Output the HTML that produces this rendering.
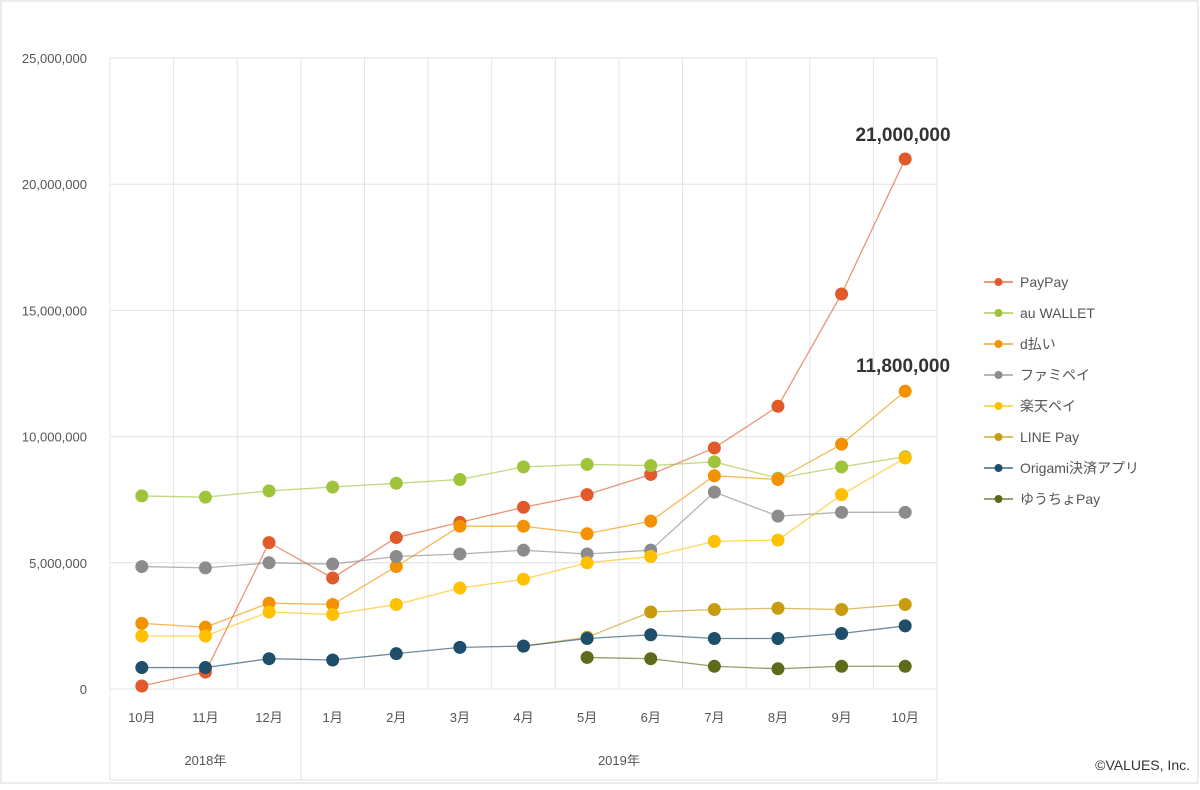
<!DOCTYPE html>
<html><head><meta charset="utf-8"><style>
body{margin:0;background:#fff;}
svg text{font-family:"Liberation Sans","Noto Sans CJK JP",sans-serif;}
</style></head><body>
<svg width="1200" height="785" viewBox="0 0 1200 785">
<rect x="1" y="1" width="1197" height="782" fill="#fff" stroke="#d9d9d9"/>
<g id="grid"></g><g id="axes"></g><g id="series"></g><g id="legend"></g>
<text x="903" y="141" text-anchor="middle" font-size="19" font-weight="bold" fill="#333">21,000,000</text>
<text x="903" y="372" text-anchor="middle" font-size="19" font-weight="bold" fill="#333">11,800,000</text>
<text x="1190" y="770" text-anchor="end" font-size="14" fill="#333">©VALUES, Inc.</text>
</svg>
<script>
const categories=["10月","11月","12月","1月","2月","3月","4月","5月","6月","7月","8月","9月","10月"];
const yTicks=[0,5000000,10000000,15000000,20000000,25000000];
const yTickLabels=["0","5,000,000","10,000,000","15,000,000","20,000,000","25,000,000"];
const seriesNames=["PayPay","au WALLET","d払い","ファミペイ","楽天ペイ","LINE Pay","Origami決済アプリ","ゆうちょPay"];
const seriesColors=["#e05a2b","#9fc43a","#f39200","#8c8c8c","#ffc000","#c89b10","#1f4e6b","#5e6b1a"];
const paypay=[0.12,0.67,5.8,4.4,6.0,6.6,7.2,7.7,8.5,9.55,11.2,15.65,21.0];
const auWallet=[7.65,7.6,7.85,8.0,8.15,8.3,8.8,8.9,8.85,9.0,8.35,8.8,9.2];
const dBarai=[2.6,2.45,3.4,3.35,4.85,6.45,6.45,6.15,6.65,8.45,8.3,9.7,11.8];
const famipay=[4.85,4.8,5.0,4.95,5.25,5.35,5.5,5.35,5.5,7.8,6.85,7.0,7.0];
const rakuten=[2.1,2.1,3.05,2.95,3.35,4.0,4.35,5.0,5.25,5.85,5.9,7.7,9.15];
const linePay=[null,null,null,null,null,null,1.7,2.05,3.05,3.15,3.2,3.15,3.35];
const origami=[0.85,0.85,1.2,1.15,1.4,1.65,1.7,2.0,2.15,2.0,2.0,2.2,2.5];
const yucho=[null,null,null,null,null,null,null,1.25,1.2,0.9,0.8,0.9,0.9];
const allSeries=[paypay,auWallet,dBarai,famipay,rakuten,linePay,origami,yucho];
const NS="http://www.w3.org/2000/svg";
const X0=110,X1=937,Y0=689,Y1=58,YMAX=25000000;
const cw=(X1-X0)/categories.length;
const xs=i=>X0+cw*(i+0.5);
const ys=v=>Y0-(v/YMAX)*(Y0-Y1);
function mk(p,tag,at){const e=document.createElementNS(NS,tag);for(const k in at)e.setAttribute(k,at[k]);p.appendChild(e);return e;}
const grid=document.getElementById('grid'),axes=document.getElementById('axes'),ser=document.getElementById('series'),leg=document.getElementById('legend');
yTicks.forEach((t,i)=>{
 const l=mk(grid,'line',{x1:X0,x2:X1,y1:ys(t),y2:ys(t),stroke:'#e3e3e3'});
 
 
 const tx=mk(axes,'text',{x:87,y:ys(t)+5,'text-anchor':'end','font-size':13,fill:'#555'});
 tx.textContent=yTickLabels[i];
 
 
});
for(let i=0;i<=categories.length;i++){
 const x=X0+cw*i;
 const full=(i===0||i===3||i===categories.length);
 const l=mk(grid,'line',{x1:x,x2:x,y1:Y1,y2:full?780:Y0,stroke:'#e3e3e3'});
 
 
}
mk(grid,'line',{x1:X0,x2:X1,y1:780,y2:780,stroke:'#e3e3e3'});
categories.forEach((c,i)=>{
 const t=mk(axes,'text',{x:xs(i),y:722,'text-anchor':'middle','font-size':13,fill:'#555'});
 t.textContent=c;
 
 
});
[["2018年",X0+cw*1.5],["2019年",X0+cw*8]].forEach(a=>{
 const t=mk(axes,'text',{x:a[1],y:765,'text-anchor':'middle','font-size':13,fill:'#555'});
 t.textContent=a[0];
 
 
});
allSeries.forEach((s,k)=>{
 const g=mk(ser,'g',{});
 
 
 let d='';let pen=false;
 s.forEach((v,i)=>{if(v==null){pen=false;return;}d+=(pen?'L':'M')+xs(i)+' '+ys(v*1e6)+' ';pen=true;});
 mk(g,'path',{d:d,fill:'none',stroke:seriesColors[k],'stroke-width':1.3,'stroke-opacity':0.65});
 s.forEach((v,i)=>{if(v==null)return;
  const c=mk(g,'circle',{cx:xs(i),cy:ys(v*1e6),r:6.5,fill:seriesColors[k]});
  
  
 });
});
seriesNames.forEach((n,k)=>{
 const y=282+k*31;
 const g=mk(leg,'g',{});
 
 
 mk(g,'line',{x1:984,x2:1013,y1:y,y2:y,stroke:seriesColors[k],'stroke-width':1.3});
 mk(g,'circle',{cx:998.5,cy:y,r:4,fill:seriesColors[k]});
 const t=mk(g,'text',{x:1020,y:y+5,'font-size':14,fill:'#555'});
 t.textContent=n;
});
</script>
</body></html>
